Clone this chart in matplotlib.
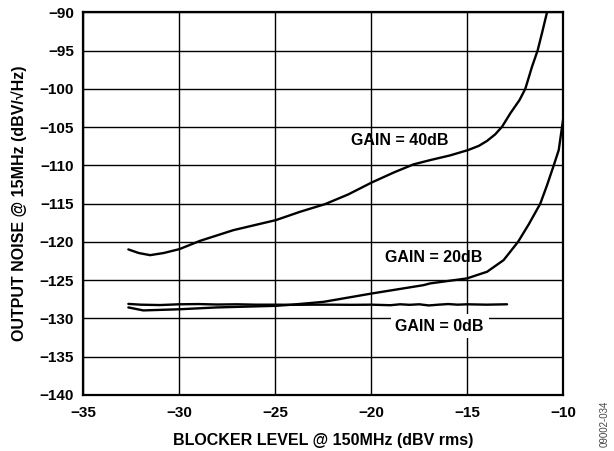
import matplotlib
matplotlib.use('Agg')
import matplotlib.pyplot as plt

plt.rcParams['font.family'] = ['Liberation Sans', 'DejaVu Sans']
plt.rcParams['font.weight'] = 'bold'

# GAIN = 40dB
x40 = [-32.64, -32.1, -31.51, -30.8, -29.98, -28.91, -27.17, -24.96, -23.7, -22.4, -21.2, -19.96,
       -18.8, -17.8, -16.93, -15.9, -14.96, -14.4, -13.97, -13.55, -13.19, -12.76, -12.28, -11.98,
       -11.63, -11.34, -11.1, -10.85]
y40 = [-120.98, -121.45, -121.73, -121.45, -120.94, -119.86, -118.46, -117.15, -116.06, -115.06, -113.8, -112.22,
       -110.9, -109.87, -109.31, -108.7, -108.0, -107.45, -106.8, -105.95, -104.95, -103.2, -101.46, -100.0,
       -97.1, -95.0, -92.6, -90.0]

# GAIN = 20dB
x20 = [-32.64, -31.86, -29.98, -28.04, -24.96, -24.22, -22.48, -19.95, -17.28, -16.93, -15.02, -13.97,
       -13.11, -12.36, -11.8, -11.2, -10.85, -10.5, -10.24, -10.07, -10.0]
y20 = [-128.56, -128.95, -128.8, -128.56, -128.35, -128.22, -127.83, -126.73, -125.65, -125.42, -124.77, -123.9,
       -122.38, -120.0, -117.7, -115.0, -112.6, -110.0, -108.0, -105.0, -103.8]

# GAIN = 0dB
x0 = [-32.64, -32.0, -31.0, -30.0, -29.0, -28.0, -27.0, -26.0, -25.0, -24.0, -23.0, -22.0, -21.0,
      -20.0, -19.0, -18.5, -18.0, -17.5, -17.0, -16.5, -16.0, -15.5, -15.0, -14.0, -12.93]
y0 = [-128.1, -128.2, -128.25, -128.15, -128.12, -128.18, -128.15, -128.2, -128.2, -128.22, -128.2, -128.2, -128.22,
      -128.2, -128.27, -128.15, -128.22, -128.15, -128.3, -128.2, -128.12, -128.2, -128.15, -128.2, -128.15]

fig = plt.figure(figsize=(6.14, 4.51), dpi=100)
ax = fig.add_axes([0.1352, 0.1242, 0.7823, 0.8485])

for xs, ys in [(x40, y40), (x20, y20), (x0, y0)]:
    ax.plot(xs, ys, color='black', linewidth=1.7, solid_capstyle='round')

ax.set_xlim(-35, -10)
ax.set_ylim(-140, -90)
ax.set_xticks(range(-35, -9, 5))
ax.set_yticks(range(-140, -89, 5))
ax.grid(True, color='black', linewidth=1.0)
ax.set_axisbelow(True)
for s in ax.spines.values():
    s.set_linewidth(1.6)
ax.tick_params(length=0, labelsize=11)
ax.tick_params(axis='x', pad=8)
ax.tick_params(axis='y', pad=6.5)

ax.set_xlabel('BLOCKER LEVEL @ 150MHz (dBV rms)', fontsize=11.5, fontweight='bold', labelpad=9)
ax.set_ylabel('OUTPUT NOISE @ 15MHz (dBV/\u221aHz)', fontsize=11.5, fontweight='bold', labelpad=9)

ax.text(-18.49, -106.78, 'GAIN = 40dB', fontsize=11.5, fontweight='bold', ha='center', va='center')
ax.text(-16.77, -122.0, 'GAIN = 20dB', fontsize=11.5, fontweight='bold', ha='center', va='center')
ax.text(-16.44, -131.0, 'GAIN = 0dB', fontsize=11.5, fontweight='bold', ha='center', va='center',
        bbox=dict(boxstyle='square,pad=0.3', facecolor='white', edgecolor='none'))

fig.text(0.984, 0.06, '09002-034', rotation=90, fontsize=7, color='#444444',
         fontweight='normal', ha='center', va='center')

fig.savefig('out.png', dpi=100)
